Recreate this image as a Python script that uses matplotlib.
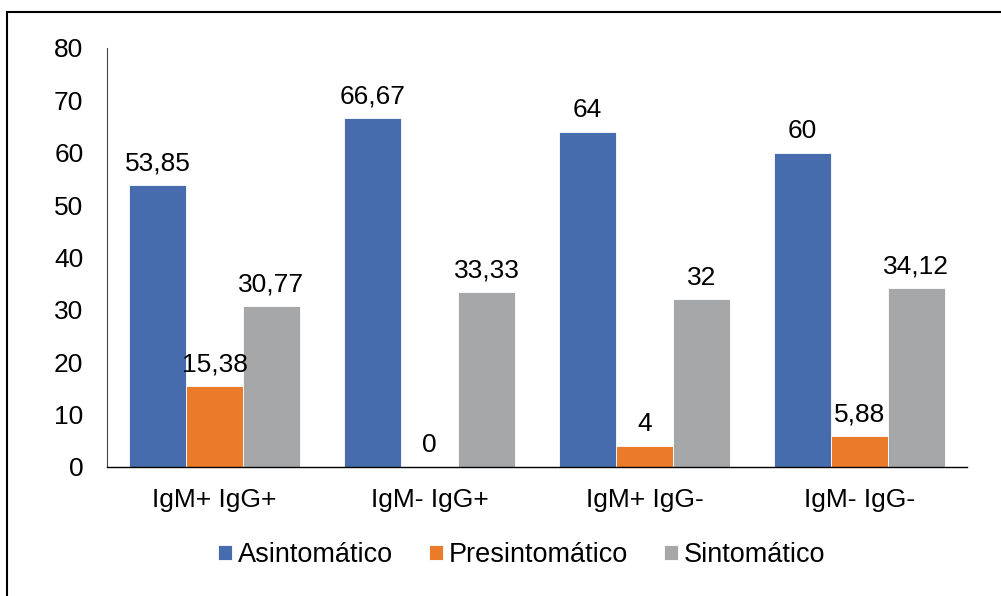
import matplotlib.pyplot as plt
from matplotlib.patches import Rectangle
import numpy as np

plt.rcParams['font.family'] = ['Liberation Sans', 'DejaVu Sans']

# data
categories = ['IgM+ IgG+', 'IgM- IgG+', 'IgM+ IgG-', 'IgM- IgG-']
series_names = ['Asintomático', 'Presintomático', 'Sintomático']
asintomatico = [53.85, 66.67, 64, 60]
presintomatico = [15.38, 0, 4, 5.88]
sintomatico = [30.77, 33.33, 32, 34.12]
colors = ['#476CAD', '#E97B2A', '#A6A7A9']


def fmt(v):
    # comma as decimal separator, no trailing zeros
    s = f'{v:.2f}'.rstrip('0').rstrip('.')
    return s.replace('.', ',')


fig = plt.figure(figsize=(10.01, 5.96), dpi=100)
ax = fig.add_axes([107 / 1001, 1 - 467 / 596, 860 / 1001, 419 / 596])

x = np.arange(len(categories))
w = 0.265
all_series = [asintomatico, presintomatico, sintomatico]
for i, (vals, name, col) in enumerate(zip(all_series, series_names, colors)):
    bars = ax.bar(x + (i - 1) * w, vals, w, color=col, label=name,
                  edgecolor='white', linewidth=0.6)
    for b, v in zip(bars, vals):
        ax.annotate(fmt(v), (b.get_x() + b.get_width() / 2, v),
                    xytext=(0, 7), textcoords='offset points',
                    ha='center', va='bottom', fontsize=19)

ax.set_xlim(-0.5, 3.5)
ax.set_ylim(0, 80)
ax.set_yticks(range(0, 81, 10))
ax.set_xticks(x)
ax.set_xticklabels(categories)
ax.tick_params(axis='y', length=0, pad=17, labelsize=19)
ax.tick_params(axis='x', length=0, pad=15, labelsize=19)
for s in ['top', 'right']:
    ax.spines[s].set_visible(False)
ax.spines['left'].set_color('#444444')
ax.spines['left'].set_linewidth(0.8)
ax.spines['bottom'].set_color('black')
ax.spines['bottom'].set_linewidth(1.0)

fig.legend(loc='center', bbox_to_anchor=(0.521, 1 - 555 / 596), ncol=3,
           frameon=False, fontsize=19.5, handlelength=0.52, handleheight=0.52,
           handletextpad=0.22, columnspacing=1.33)

# outer frame, only top and left edges fall inside the image
fig.patches.append(Rectangle((7 / 1001, -0.1), 1.2, 1.1 - 12 / 596,
                             transform=fig.transFigure, fill=False,
                             edgecolor='black', linewidth=1.5))

fig.savefig('out.png', dpi=100)
